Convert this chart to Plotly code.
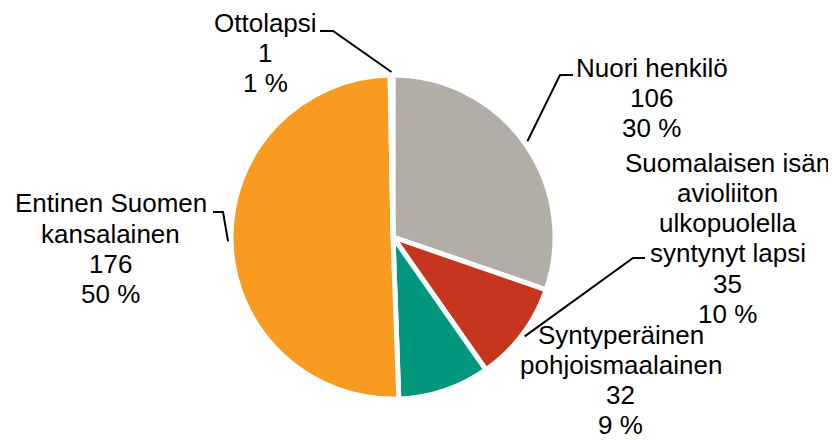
import math
import plotly.graph_objects as go

# ---- data ----
categories = [
    "Nuori henkilö",
    "Suomalaisen isän avioliiton ulkopuolella syntynyt lapsi",
    "Syntyperäinen pohjoismaalainen",
    "Entinen Suomen kansalainen",
    "Ottolapsi",
]
values = [106, 35, 32, 176, 1]
percent_labels = ["30 %", "10 %", "9 %", "50 %", "1 %"]
label_lines = [
    ["Nuori henkilö"],
    ["Suomalaisen isän", "avioliiton", "ulkopuolella", "syntynyt lapsi"],
    ["Syntyperäinen", "pohjoismaalainen"],
    ["Entinen Suomen", "kansalainen"],
    ["Ottolapsi"],
]
colors = ["#B1AEA7", "#C6361E", "#00977D", "#F89B20", "#4F81BD"]

# ---- layout geometry (pixels in the 836x440 window) ----
OFF = 8  # page body margin
W, H = 836 - OFF, 440 - OFF
CX, CY, R = 393, 237, 162
FONT = "Liberation Sans, Arial, sans-serif"
FS = 26
LH = 30.2
# label block: (center x, baseline of first line)
label_pos = [(651.5, 76.7), (727.5, 171.7), (620.5, 343.5), (110.5, 212.3), (265, 31.7)]
# leader: elbow points (pixels) before reaching the slice, or None
leaders = [
    [(573, 75), (560, 75)],
    [(645, 258), (633, 258)],
    None,
    [(213, 212), (223, 212)],
    [(320, 31), (333, 31)],
]

fig = go.Figure()
fig.add_trace(go.Pie(
    labels=categories, values=values, sort=False, direction="clockwise",
    rotation=0, textinfo="none", hoverinfo="label+value+percent",
    marker=dict(colors=colors, line=dict(color="white", width=5)),
    domain=dict(x=[(CX - R - OFF) / W, (CX + R - OFF) / W],
                y=[1 - (CY + R - OFF) / H, 1 - (CY - R - OFF) / H]),
    showlegend=False,
))

annotations = []
shapes = []
total = sum(values)
cum = 0
for i, v in enumerate(values):
    mid = (cum + v / 2) / total * 2 * math.pi
    cum += v
    lines = label_lines[i] + [str(v), percent_labels[i]]
    x0, b0 = label_pos[i]
    for k, t in enumerate(lines):
        annotations.append(dict(
            x=x0, y=b0 + k * LH - 9, xref="x", yref="y", text=t, showarrow=False,
            xanchor="center", yanchor="middle",
            font=dict(family=FONT, size=FS, color="#000000"),
        ))
    if leaders[i]:
        rr = R + 3
        ex = CX + rr * math.sin(mid)
        ey = CY - rr * math.cos(mid)
        pts = leaders[i] + [(ex, ey)]
        path = "M " + " L ".join(f"{px:.1f},{py:.1f}" for px, py in pts)
        shapes.append(dict(type="path", path=path, xref="x", yref="y",
                           line=dict(color="#000000", width=2)))

fig.update_layout(
    width=W, height=H, margin=dict(l=0, r=0, t=0, b=0),
    paper_bgcolor="white", plot_bgcolor="rgba(0,0,0,0)",
    xaxis=dict(range=[OFF, OFF + W], visible=False, domain=[0, 1], fixedrange=True),
    yaxis=dict(range=[OFF + H, OFF], visible=False, domain=[0, 1], fixedrange=True),
    annotations=annotations, shapes=shapes,
)
fig.write_html("out.html")
